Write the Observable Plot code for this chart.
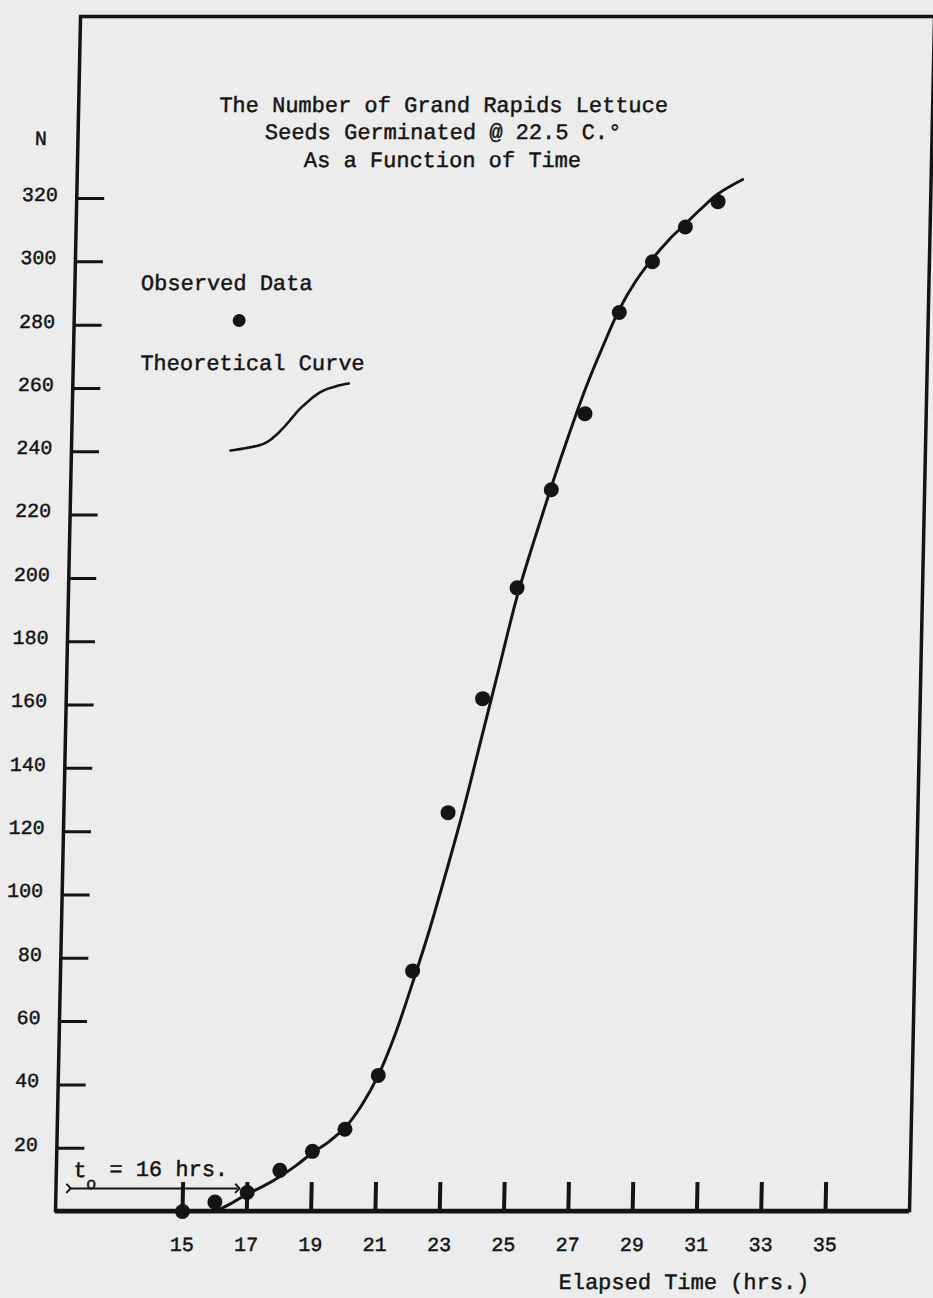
<!DOCTYPE html>
<html>
<head>
<meta charset="utf-8">
<script src="https://cdn.jsdelivr.net/npm/d3@7"></script>
<script src="https://cdn.jsdelivr.net/npm/@observablehq/plot@0.6"></script>
<style>
  html, body { margin: 0; padding: 0; background: #ececec; overflow: hidden; }
  #wrap { position: relative; width: 933px; height: 1298px;
          transform: skewX(-1.2deg); transform-origin: 0 1212px; }
  #wrap svg { display: block; }
  #main svg text { stroke: #141414; stroke-width: 0.45px; }
  #swatch { position: absolute; left: 211px; top: 380px; }
</style>
</head>
<body>
<div id="wrap"><div id="main"></div><div id="swatch"></div></div>
<script>
// Observed data: elapsed time (hrs.) and number of seeds germinated (N)
const hours      = [15, 16, 17, 18, 19, 20, 21, 22, 23, 24, 25, 26, 27, 28, 29, 30, 31];
const germinated = [0, 3, 6, 13, 19, 26, 43, 76, 126, 162, 197, 228, 252, 284, 300, 311, 319];

// Theoretical curve
const curveHours = [16, 16.5, 17, 17.5, 18, 18.5, 19, 19.5, 20, 20.5, 21, 21.5, 22, 22.5, 23, 23.5, 24, 24.5, 25, 25.5, 26, 26.5, 27, 27.5, 28, 28.5, 29, 29.5, 30, 30.5, 31, 31.75];
const curveN     = [0, 2.5, 5.5, 8, 11, 14.5, 18.5, 22, 26.5, 33.5, 43, 56, 72, 89, 108, 128, 150, 172, 194, 212, 229, 245, 260, 273, 285, 294, 301, 307, 312, 317, 321.5, 326];

// Axis ticks
const xTicks = [15, 17, 19, 21, 23, 25, 27, 29, 31, 33, 35];
const yTicks = [20, 40, 60, 80, 100, 120, 140, 160, 180, 200, 220, 240, 260, 280, 300, 320];

// Texts
const titleText  = "The Number of Grand Rapids Lettuce\nSeeds Germinated @ 22.5 C.°\nAs a Function of Time";
const yLabelText = "N";
const xLabelText = "Elapsed Time (hrs.)";
const legendObserved = "Observed Data";
const legendCurve = "Theoretical Curve";
const t0Text = ["t", "o", "= 16 hrs."];
const t0Arrow = [{x1: 11.45, x2: 16.7, y: 7.3}];

const observed = hours.map((h, i) => ({hours: h, n: germinated[i]}));
const curve = curveHours.map((h, i) => ({hours: h, n: curveN[i]}));

const FONT = "'Liberation Mono', 'Courier New', monospace";
const INK = "#141414";
const W = 933, H = 1298;
const mL = 55, mR = 24, mT = 16, mB = 88;
const frameW = W - mL - mR, frameH = H - mT - mB;
const txt = {fontFamily: FONT, fill: INK, lineAnchor: "middle"};

const chart = Plot.plot({
  width: W, height: H,
  marginLeft: mL, marginRight: mR, marginTop: mT, marginBottom: mB,
  style: {background: "#ececec", fontFamily: FONT, color: INK, overflow: "visible"},
  x: {domain: [15, 35], range: [182, 825]},
  y: {domain: [0, 320], range: [1211, 198]},
  marks: [
    Plot.frame({stroke: INK, strokeWidth: 3.5}),
    Plot.ruleY([0], {stroke: INK, strokeWidth: 4}),
    Plot.tickY(yTicks, {y: d => d, insetRight: frameW - 28, stroke: INK, strokeWidth: 3}),
    Plot.tickX(xTicks, {x: d => d, insetTop: frameH - 28, stroke: INK, strokeWidth: 4}),
    Plot.axisY(yTicks, {tickSize: 0, tickPadding: 19, label: null, fontSize: 20, fontFamily: FONT, fill: INK, dy: -4}),
    Plot.axisX(xTicks, {tickSize: 0, tickPadding: 26, label: null, fontSize: 20, fontFamily: FONT, fill: INK}),
    Plot.line(curve, {x: "hours", y: "n", curve: "catmull-rom", stroke: INK, strokeWidth: 3}),
    Plot.dot(observed, {x: "hours", y: "n", r: 7.5, fill: INK, stroke: "none"}),
    // title
    Plot.text([titleText], {...txt, frameAnchor: "top-left", dx: 365, dy: 114, textAnchor: "middle", lineHeight: 1.25, fontSize: 22}),
    // y label
    Plot.text([yLabelText], {...txt, frameAnchor: "top-left", dx: -37, dy: 122, textAnchor: "middle", fontSize: 20}),
    // legend
    Plot.text([legendObserved], {...txt, frameAnchor: "top-left", dx: 66, dy: 266, textAnchor: "start", fontSize: 22}),
    Plot.dot([legendObserved], {frameAnchor: "top-left", dx: 165, dy: 304, r: 6.5, fill: INK, stroke: "none"}),
    Plot.text([legendCurve], {...txt, frameAnchor: "top-left", dx: 67, dy: 346, textAnchor: "start", fontSize: 22}),
    // t0 annotation
    Plot.text([t0Text[0]], {...txt, frameAnchor: "bottom-left", dx: 17, dy: -41, textAnchor: "start", fontSize: 22}),
    Plot.text([t0Text[1]], {...txt, frameAnchor: "bottom-left", dx: 30, dy: -27, textAnchor: "start", fontSize: 17}),
    Plot.text([t0Text[2]], {...txt, frameAnchor: "bottom-left", dx: 53, dy: -42, textAnchor: "start", fontSize: 22}),
    Plot.link(t0Arrow, {x1: "x1", x2: "x2", y1: "y", y2: "y", stroke: INK, strokeWidth: 2, markerStart: "arrow", markerEnd: "arrow"}),
    // x label
    Plot.text([xLabelText], {...txt, frameAnchor: "bottom-left", dx: 630, dy: 71, textAnchor: "middle", fontSize: 22})
  ]
});
document.getElementById("main").append(chart);

// Legend swatch: a miniature of the theoretical curve
const swatch = Plot.plot({
  width: 123, height: 73, margin: 3,
  style: {background: "transparent", overflow: "visible"},
  x: {axis: null}, y: {axis: null},
  marks: [Plot.line(curve, {x: "hours", y: "n", curve: "catmull-rom", stroke: INK, strokeWidth: 2.6})]
});
document.getElementById("swatch").append(swatch);
</script>
</body>
</html>
